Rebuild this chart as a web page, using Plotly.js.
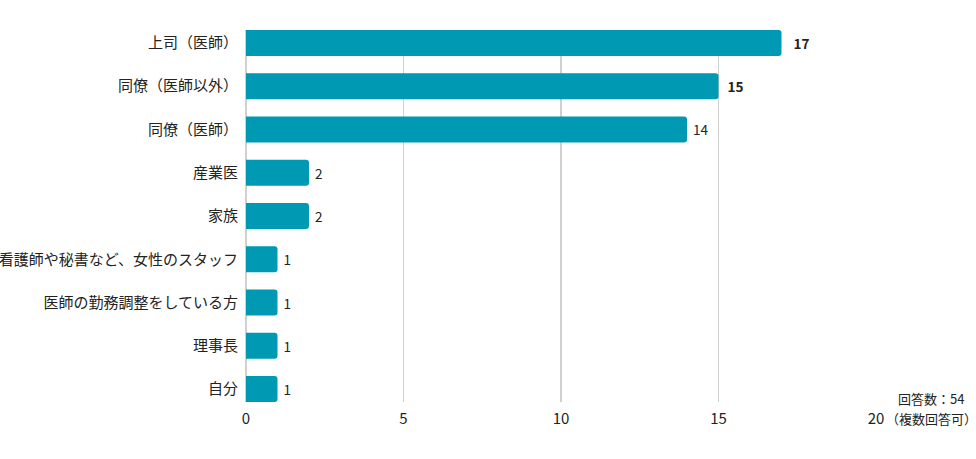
<!DOCTYPE html>
<html><head><meta charset="utf-8">
<script src="https://cdn.plot.ly/plotly-3.0.1.min.js"></script>
<style>html,body{margin:0;padding:0;background:#fff;}</style>
</head><body><div id="chart" style="width:976px;height:459px;"></div>
<script>
const categories = ["上司（医師）","同僚（医師以外）","同僚（医師）","産業医","家族","看護師や秘書など、女性のスタッフ","医師の勤務調整をしている方","理事長","自分"];
const counts = [17,15,14,2,2,1,1,1,1];
const labels = ["   <b>17</b>","  <b>15</b>"," 14"," 2"," 2"," 1"," 1"," 1"," 1"];
const xTicks = [0,5,10,15,20];
const noteLines = ["回答数：54","（複数回答可）"];

const font = "'Noto Sans CJK JP', 'Noto Sans', sans-serif";
const px2x = px => (px-246)/630;
const py2y = py => (402-py)/372;
Plotly.newPlot('chart', [{
  type:'bar', orientation:'h',
  y: categories, x: counts,
  text: labels, textposition:'outside', cliponaxis:false,
  textfont:{family:font, size:13.5, color:'#222'},
  marker:{color:'#0099b4', cornerradius:3},
  width:0.6, hoverinfo:'none'
}], {
  width:976, height:459,
  margin:{l:246, r:100, t:30, b:57},
  paper_bgcolor:'#fff', plot_bgcolor:'#fff',
  showlegend:false,
  font:{family:font, size:15, color:'#222'},
  xaxis:{range:[0,20], tickvals:xTicks, showgrid:true, gridcolor:'#d0d0d0', gridwidth:1.5,
         zeroline:true, zerolinecolor:'#d0d0d0', zerolinewidth:1.5, showline:false, ticks:'',
         ticklabelstandoff:6, tickfont:{size:15, color:'#222'}, fixedrange:true},
  yaxis:{type:'category', range:[8.3,-0.3], autorange:false, ticks:'', showline:false, showgrid:false,
         ticklabelstandoff:7, tickfont:{size:15, color:'#222'}},
  annotations:noteLines.map((t,i)=>({xref:'paper', yref:'paper', x:px2x(931), y:py2y(398+20*i),
    xanchor:'center', yanchor:'middle', text:t, showarrow:false, font:{family:font, size:13, color:'#222'}}))
}, {staticPlot:true});
</script></body></html>
